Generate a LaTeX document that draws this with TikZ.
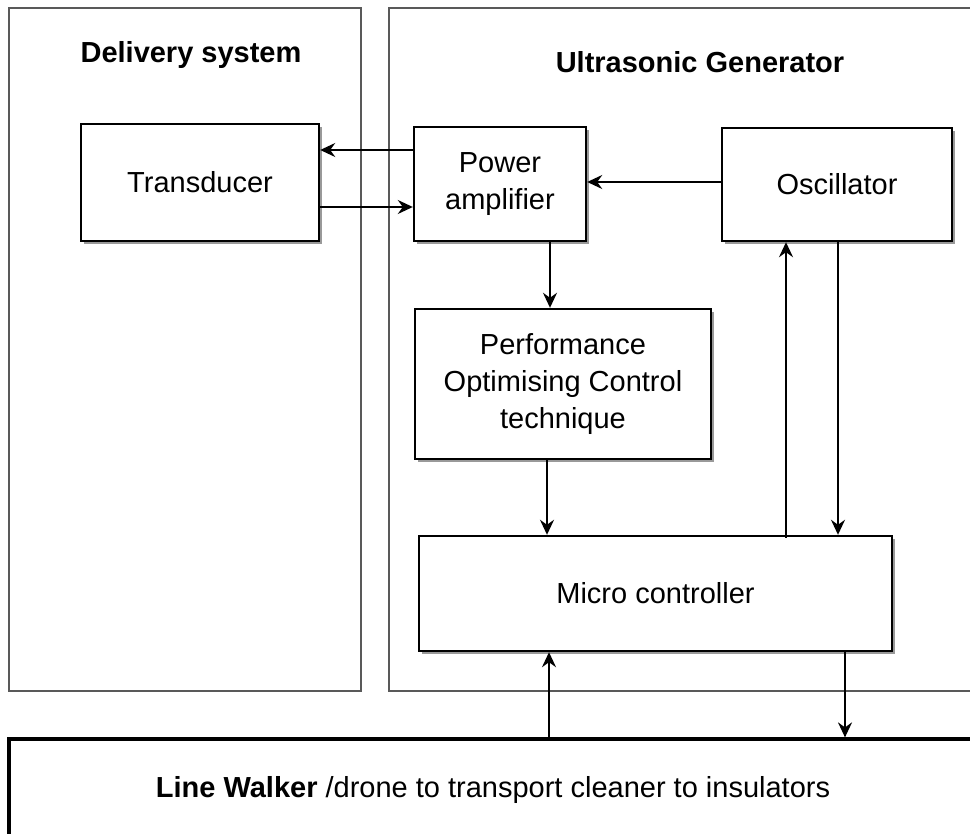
\documentclass[tikz,border=0pt]{standalone}
\usepackage{fontspec}
\setmainfont{Liberation Sans}
\usetikzlibrary{arrows.meta,shadows}
\begin{document}
\begin{tikzpicture}[x=1pt,y=-1pt,
 box/.style={draw=black, line width=2.4pt, fill=white,
   drop shadow={shadow xshift=3pt, shadow yshift=-3pt, fill=black!40, opacity=1},
   font=\fontsize{29}{37}\selectfont, align=center, inner sep=0pt},
 lwbox/.style={draw=black, line width=3.2pt, fill=white, font=\fontsize{29}{37}\selectfont, inner sep=0pt},
 panel/.style={draw=black!65, line width=1.3pt},
 arr/.style={line width=1.9pt, -{Stealth[length=15pt,width=14pt,inset=5pt]}},
 title/.style={font=\fontsize{29}{35}\selectfont\bfseries, anchor=base}]
\useasboundingbox (0,0) rectangle (970,834);
\clip (0,0) rectangle (970,834);
\fill[white] (0,0) rectangle (970,834);
% panels
\draw[panel] (9,8) rectangle (361,691);
\draw[panel] (389,8) rectangle (1000,691);
\node[title] (ds) at (191,63) {Delivery system};
\node[title] (ug) at (700,73) {Ultrasonic Generator};
% boxes
\node[box, minimum width=238pt, minimum height=117pt] (tr) at (200,182.5) {Transducer};
\node[box, minimum width=172pt, minimum height=114pt] (pa) at (500,184) {Power\\amplifier};
\node[box, minimum width=230pt, minimum height=113pt] (osc) at (837,184.5) {Oscillator};
\node[box, minimum width=296pt, minimum height=150pt] (perf) at (563,384) {Performance\\Optimising Control\\technique};
\node[box, minimum width=473pt, minimum height=115pt] (mc) at (655.5,593.5) {Micro controller};
\node[lwbox, minimum width=968pt, minimum height=101pt] (lw) at (493,789.5) {\textbf{Line Walker} /drone to transport cleaner to insulators};
% helper coordinates
\coordinate (p1) at ([yshift=34pt]pa.west);
\coordinate (t1) at ([yshift=-24.5pt]tr.east);
\coordinate (o1) at ([yshift=2.5pt]osc.west);
\coordinate (p2) at ([xshift=50pt]pa.south);
\coordinate (f1) at ([xshift=-16pt]perf.south);
\coordinate (o2) at ([xshift=-51pt]osc.south);
\coordinate (o3) at ([xshift=1pt]osc.south);
\coordinate (m2) at ([xshift=-106.5pt]mc.south);
\coordinate (m3) at ([xshift=189.5pt]mc.south);
% connectors
\draw[arr] (p1) -- (p1 -| tr.east);
\draw[arr] (t1) -- (t1 -| pa.west);
\draw[arr] (o1) -- (o1 -| pa.east);
\draw[arr] (p2) -- (p2 |- perf.north);
\draw[arr] (f1) -- (f1 |- mc.north);
\draw[arr] ([yshift=-3pt]o2 |- mc.north) -- (o2);
\draw[arr] (o3) -- (o3 |- mc.north);
\draw[arr] (m2 |- lw.north) -- (m2);
\draw[arr] (m3) -- (m3 |- lw.north);
\end{tikzpicture}
\end{document}
